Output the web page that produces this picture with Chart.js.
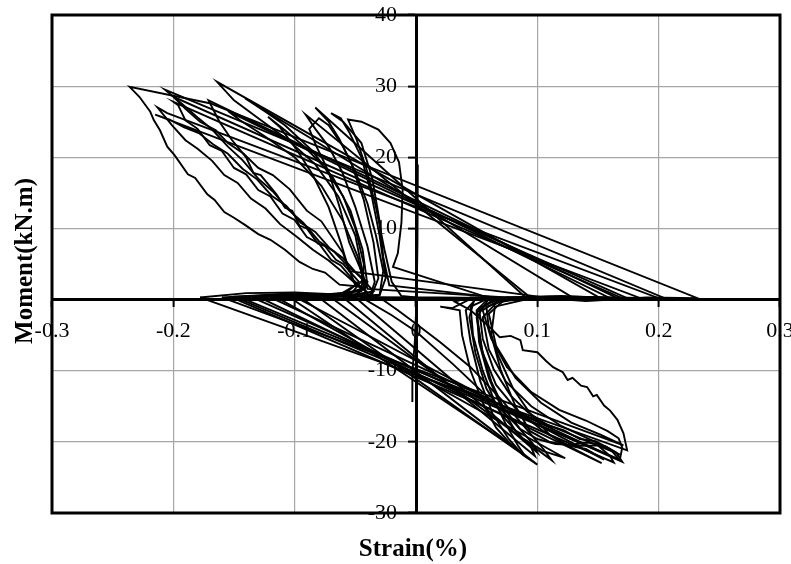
<!DOCTYPE html>
<html lang="en">
<head>
    <meta charset="UTF-8">
    <title>Moment - Strain</title>
    <script src="https://cdn.jsdelivr.net/npm/chart.js"></script>
    <style>
        html, body {
            margin: 0;
            padding: 0;
            background-color: #fff;
        }
        .chart-box {
            position: relative;
            width: 791px;
            height: 564px;
        }
    </style>
</head>
<body>
    <div class="chart-box">
        <canvas id="chart"></canvas>
    </div>

    <script>
        // axis ticks
        const strainTicks = [-0.3, -0.2, -0.1, 0, 0.1, 0.2, 0.3];
        const strainLabels = ['-0.3', '-0.2', '-0.1', '0', '0.1', '0.2', '0.3'];
        const momentTicks = [-30, -20, -10, 0, 10, 20, 30, 40];
        const momentLabels = ['-30', '-20', '-10', '', '10', '20', '30', '40'];

        // recorded loops, [strain %, moment kN.m]
        const cycle1 = [
            [0.000, 0.3], [-0.012, 0.5], [-0.020, 2.5], [-0.026, 7], [-0.033, 13], [-0.041, 18.5],
            [-0.049, 22.5], [-0.056, 25.3], [-0.045, 25.0], [-0.031, 23.9], [-0.021, 22.0],
            [-0.014, 19.3], [-0.011, 15.4], [-0.012, 10.8], [-0.015, 6.5], [-0.019, 4.6],
            [0.061, 0.2], [0.045, 0.1], [0.030, -1.2], [0.020, -1.0], [0.036, -1.5], [0.038, -5],
            [0.045, -10], [0.055, -14.5], [0.066, -18], [0.080, -20.7], [-0.104, 0.3]
        ];
        const cycle2 = [
            [-0.104, 0.3], [-0.080, 0.6], [-0.055, 0.5], [-0.036, 0.8], [-0.031, 3], [-0.035, 8],
            [-0.043, 14], [-0.053, 19], [-0.063, 22.5], [-0.072, 25], [-0.083, 27.0],
            [0.091, 0.2], [0.070, -0.3], [0.050, 0.2], [0.041, -1.5], [0.045, -6], [0.053, -11.5],
            [0.063, -16], [0.076, -19.5], [0.088, -21.8], [0.100, -23.2], [-0.080, 0.3]
        ];
        const cycle3 = [
            [-0.080, 0.3], [-0.052, 0.6], [-0.038, 0.4], [-0.034, 2.5], [-0.040, 7.5], [-0.050, 13],
            [-0.061, 18], [-0.072, 21.5], [-0.083, 24], [-0.091, 26.0],
            [0.095, 0.2], [0.075, 0.3], [0.048, 0.0], [0.044, -2.5], [0.049, -7.5], [0.058, -12.5],
            [0.072, -16.5], [0.088, -19.5], [0.105, -21.3], [0.123, -22.3], [-0.115, 0.3]
        ];
        const cycle4 = [
            [-0.115, 0.3], [-0.085, 0.7], [-0.050, 0.6], [-0.040, 2], [-0.044, 7], [-0.054, 12.5],
            [-0.068, 17], [-0.086, 21], [-0.108, 24.5], [-0.125, 26.5], [-0.141, 28.3],
            [0.130, 0.2], [0.095, 0.4], [0.060, 0.1], [0.050, -2.5], [0.055, -7.5], [0.066, -12],
            [0.083, -15.5], [0.105, -18.5], [0.128, -20.8], [0.153, -23.0], [-0.129, 0.3]
        ];
        const cycle5 = [
            [-0.129, 0.3], [-0.090, 0.8], [-0.055, 0.5], [-0.043, 3], [-0.050, 9], [-0.064, 14.5],
            [-0.083, 19], [-0.106, 22.5], [-0.130, 25.5], [-0.150, 28], [-0.164, 30.6],
            [0.152, 0.2], [0.110, 0.4], [0.070, 0.2], [0.055, -2.5], [0.060, -7], [0.074, -11.5],
            [0.095, -15], [0.120, -17.8], [0.145, -19.8], [0.168, -21.8], [-0.145, 0.3]
        ];
        const cycle6 = [
            [-0.145, 0.3], [-0.100, 0.7], [-0.060, 0.6], [-0.047, 2.5], [-0.060, 5], [-0.066, 5.6],
            [-0.075, 7.5], [-0.081, 7.9], [-0.090, 10], [-0.096, 10.4], [-0.102, 12.5],
            [-0.108, 12.9], [-0.115, 14.8], [-0.128, 17.5], [-0.134, 17.8], [-0.140, 20],
            [-0.152, 22.5], [-0.162, 25], [-0.171, 28.0],
            [0.166, 0.2], [0.120, 0.5], [0.075, 0.3], [0.060, -2], [0.066, -6.5], [0.082, -11],
            [0.103, -14.5], [0.128, -17.3], [0.152, -19], [0.171, -20.5], [-0.160, 0.3]
        ];
        const cycle7 = [
            [-0.160, 0.3], [-0.110, 0.8], [-0.065, 0.5], [-0.050, 2], [-0.060, 6.5], [-0.078, 11],
            [-0.090, 12.5], [-0.104, 15.5], [-0.118, 17.5], [-0.130, 18.5], [-0.142, 20.5],
            [-0.155, 22], [-0.165, 23.8], [-0.178, 25], [-0.190, 26.8], [-0.200, 28.5],
            [0.174, 0.2], [0.130, 0.4], [0.080, 0.2], [0.045, 0.3], [0.032, -0.3], [0.045, -1.5],
            [0.055, -3], [0.061, -3.9], [0.069, -5.3], [0.078, -5.1], [0.086, -5.7], [0.088, -7.1],
            [0.100, -7.4], [0.107, -8.6], [0.113, -9.5], [0.121, -10.2], [0.125, -11.3],
            [0.129, -11.0], [0.136, -12.1], [0.141, -12.3], [0.146, -13.6], [0.149, -13.4],
            [0.155, -14.9], [0.160, -15.6], [0.166, -16.9], [0.171, -18.8], [0.174, -21.2],
            [-0.178, 0.3]
        ];
        const cycle8 = [
            [-0.178, 0.3], [-0.140, 0.9], [-0.100, 1.0], [-0.060, 0.7], [-0.040, 0.8], [-0.045, 1.8],
            [-0.063, 2.1], [-0.075, 3.8], [-0.085, 4.3], [-0.096, 5.3], [-0.108, 7.0], [-0.120, 8.4],
            [-0.130, 9.2], [-0.141, 10.5], [-0.150, 11.5], [-0.158, 12.3], [-0.166, 14.0],
            [-0.172, 14.8], [-0.182, 17.1], [-0.188, 17.6], [-0.199, 20.3], [-0.205, 21.5],
            [-0.211, 23.8], [-0.216, 25.2], [-0.219, 26.4], [-0.228, 28.5], [-0.236, 29.9],
            [-0.170, 27.6],
            [0.232, 0.2], [0.190, 0.3], [0.140, -0.2], [0.100, 0.3], [0.070, 0.1], [0.055, -1.5],
            [0.062, -5.5], [0.075, -9.5], [0.095, -13], [0.118, -15.5], [0.140, -17],
            [0.158, -18.5], [0.167, -19.5], [0.170, -20.8], [0.168, -22.5], [-0.150, 0.4]
        ];
        const cycle9 = [
            [-0.150, 0.4], [-0.090, 0.8], [-0.050, 0.6], [-0.040, 2.5], [-0.055, 4.5], [-0.068, 6.8],
            [-0.080, 8.2], [-0.093, 10.8], [-0.105, 12.6], [-0.118, 15.2], [-0.130, 17.0],
            [-0.143, 19.6], [-0.155, 21.5], [-0.168, 23.9], [-0.180, 25.6], [-0.192, 27.4],
            [-0.207, 29.5],
            [0.205, 0.2], [0.150, 0.3], [0.090, 0.0], [0.065, -1], [0.062, -5], [0.070, -10],
            [0.082, -15], [0.094, -18.5], [0.110, -20], [0.130, -20.6], [0.150, -20.5],
            [0.160, -22.0], [0.163, -22.9], [-0.152, 0.3]
        ];
        const cycle10 = [
            [-0.152, 0.3], [-0.110, 0.7], [-0.060, 0.8], [-0.045, 1.5], [-0.058, 3.5], [-0.072, 5.5],
            [-0.085, 7.0], [-0.098, 8.8], [-0.112, 10.6], [-0.124, 12.8], [-0.136, 14.2],
            [-0.147, 16.4], [-0.158, 17.5], [-0.168, 19.5], [-0.180, 21.2], [-0.190, 22.4],
            [-0.201, 24.5], [-0.213, 27.0], [-0.205, 26.2],
            [0.200, 0.2], [0.140, 0.3], [0.080, 0.2], [0.058, -1], [0.060, -4], [0.068, -8],
            [0.080, -12.5], [0.094, -16], [0.110, -19], [0.125, -20.5], [0.140, -21],
            [0.155, -22.5], [-0.100, 0.4]
        ];
        const cycle11 = [
            [-0.100, 0.4], [-0.060, 0.7], [-0.042, 1.5], [-0.048, 6], [-0.060, 11], [-0.078, 16],
            [-0.100, 20], [-0.125, 23], [-0.145, 25.2], [-0.155, 26.5],
            [0.160, 0.2], [0.110, 0.3], [0.060, 0.2], [0.050, -1.5], [0.052, -6], [0.060, -11],
            [0.070, -15], [0.082, -18.5], [0.095, -20.8], [0.098, -22.0], [-0.060, 0.3]
        ];
        const cycle12 = [
            [-0.060, 0.3], [-0.030, 0.6], [-0.025, 3], [-0.030, 9], [-0.037, 15], [-0.045, 20],
            [-0.055, 23.5], [-0.062, 25.5], [-0.070, 26.2], [-0.060, 25.0], [-0.045, 22],
            [-0.036, 17], [-0.030, 11], [-0.027, 6], [-0.022, 2],
            [0.070, 0.2], [0.020, 0.3], [-0.045, 0.3], [-0.020, -2.2], [0.000, -4.5], [0.030, -9],
            [0.058, -13.5], [0.082, -17.5], [0.096, -20.2], [0.100, -21.5], [-0.050, 0.3]
        ];
        const cycle13 = [
            [-0.050, 0.5], [-0.035, 1.2], [-0.048, 3.5], [-0.060, 5.8], [-0.071, 7.2], [-0.083, 9.5],
            [-0.095, 10.8], [-0.107, 13.2], [-0.119, 14.6], [-0.131, 16.9], [-0.143, 18.4],
            [-0.155, 20.5], [-0.167, 21.8], [-0.179, 23.4], [-0.191, 24.2], [-0.203, 25.3],
            [-0.215, 26.0],
            [0.185, 0.2], [0.120, 0.3], [0.070, 0.2], [0.052, -1.2], [0.055, -5.5], [0.064, -9.8],
            [0.078, -13.5], [0.092, -15.8], [0.108, -17.6], [0.122, -18.4], [0.135, -19.6],
            [0.148, -19.9], [0.160, -21.0], [0.168, -22.6], [-0.120, 0.3]
        ];
        const cycle14 = [
            [-0.120, 0.3], [-0.050, 0.4], [-0.030, 0.7], [-0.027, 4], [-0.033, 9], [-0.040, 13.5],
            [-0.050, 18], [-0.060, 21.5], [-0.072, 24.5], [-0.080, 25.5], [-0.088, 24],
            [-0.082, 21.5], [-0.072, 18], [-0.063, 13], [-0.055, 8], [-0.045, 4], [-0.040, 1.5],
            [0.085, 0.2], [0.060, 0.2], [0.045, -1], [0.047, -5], [0.055, -10], [0.064, -14],
            [0.074, -17.5], [0.084, -20.5], [0.090, -22.0], [-0.095, 0.3]
        ];
        const cycle15 = [
            [-0.095, 0.3], [-0.055, 0.6], [-0.040, 1.0], [-0.052, 2.8], [-0.062, 4.8], [-0.070, 5.6],
            [-0.080, 7.9], [-0.090, 8.8], [-0.100, 11.2], [-0.110, 12.1], [-0.120, 14.5],
            [-0.130, 15.4], [-0.140, 17.6], [-0.150, 18.5], [-0.160, 20.9], [-0.170, 21.7],
            [-0.180, 24.0], [-0.190, 25.2], [-0.196, 27.3], [-0.200, 27.8],
            [0.170, 0.2], [0.110, 0.3], [0.065, 0.2], [0.050, -1.8], [0.054, -6.8], [0.062, -11.5],
            [0.072, -15.2], [0.086, -18.2], [0.100, -19.6], [0.115, -20.3], [0.128, -20.4],
            [0.142, -20.1], [0.156, -20.6], [0.165, -21.5], [0.170, -22.8], [-0.135, 0.3]
        ];
        const cycle16 = [
            [-0.135, 0.3], [-0.070, 0.8], [-0.045, 1.2], [-0.043, 5], [-0.050, 10], [-0.060, 14.5],
            [-0.075, 18.5], [-0.092, 21.5], [-0.108, 23.8], [-0.122, 25.7], [-0.112, 24.2],
            [-0.098, 21], [-0.085, 17.5], [-0.072, 13], [-0.062, 8], [-0.055, 4],
            [0.110, 0.2], [0.075, 0.3], [0.020, 0.2], [-0.030, 0.3], [-0.015, -1.5], [0.000, -3.4],
            [0.020, -6], [0.045, -9.5], [0.070, -14], [0.090, -18], [0.105, -21], [0.112, -22.6],
            [-0.070, 0.3]
        ];
        // gauge drift through zero strain
        const cycle17 = [
            [0.0015, 19.0], [0.0012, 8.0], [0.0005, 0.0], [-0.001, -6.0], [-0.003, -10.3], [-0.003, -14.4]
        ];

        const cycles = [cycle1, cycle2, cycle3, cycle4, cycle5, cycle6, cycle7, cycle8, cycle9,
                        cycle10, cycle11, cycle12, cycle13, cycle14, cycle15, cycle16, cycle17];

        const tickFont = { family: "'Times New Roman', 'Liberation Serif', serif", size: 22, lineHeight: 1 };

        // labels of an axis placed at x = 0 sit right on the line; move them off it
        const yLabelGap = {
            id: 'yLabelGap',
            beforeDraw(chart) {
                const items = chart.scales.y.getLabelItems(chart.chartArea);
                items.forEach(item => {
                    if (!item.moved) {
                        item.options.translation[0] -= 19;
                        item.moved = true;
                    }
                });
            }
        };

        // outer frame and axis titles
        const frameAndTitles = {
            id: 'frameAndTitles',
            afterDraw(chart) {
                const { ctx, chartArea: a } = chart;
                ctx.save();
                ctx.strokeStyle = '#000';
                ctx.lineWidth = 3;
                ctx.strokeRect(a.left, a.top, a.right - a.left, a.bottom - a.top);

                ctx.fillStyle = '#000';
                ctx.font = "bold 25px 'Times New Roman', 'Liberation Serif', serif";
                ctx.textAlign = 'center';
                ctx.textBaseline = 'alphabetic';
                ctx.fillText('Strain(%)', 413, 556);

                ctx.translate(32, 261);
                ctx.rotate(-Math.PI / 2);
                ctx.fillText('Moment(kN.m)', 0, 0);
                ctx.restore();
            }
        };

        const ctx = document.getElementById('chart').getContext('2d');
        new Chart(ctx, {
            type: 'scatter',
            data: {
                datasets: cycles.map((c, i) => ({
                    label: 'Cycle ' + (i + 1),
                    data: c.map(p => ({ x: p[0], y: p[1] })),
                    showLine: true,
                    borderColor: '#000',
                    borderWidth: 1.9,
                    pointRadius: 0,
                    tension: 0
                }))
            },
            options: {
                responsive: true,
                maintainAspectRatio: false,
                animation: false,
                layout: {
                    padding: { left: 52, right: 11, top: 15, bottom: 51 }
                },
                plugins: {
                    legend: { display: false },
                    tooltip: { enabled: false }
                },
                scales: {
                    x: {
                        type: 'linear',
                        position: { y: 0 },
                        min: -0.3,
                        max: 0.3,
                        afterBuildTicks: s => { s.ticks = strainTicks.map(v => ({ value: v })); },
                        afterFit: s => { s.paddingLeft = 0; s.paddingRight = 0; },
                        grid: {
                            color: '#a6a6a6',
                            lineWidth: 1.2,
                            tickColor: '#000',
                            tickLength: 6,
                            tickWidth: 2
                        },
                        border: { color: '#000', width: 3 },
                        ticks: {
                            autoSkip: false,
                            maxRotation: 0,
                            padding: 15,
                            color: '#000',
                            font: tickFont,
                            callback: (v, i) => strainLabels[i]
                        }
                    },
                    y: {
                        type: 'linear',
                        position: { x: 0 },
                        min: -30,
                        max: 40,
                        afterBuildTicks: s => { s.ticks = momentTicks.map(v => ({ value: v })); },
                        afterFit: s => { s.paddingTop = 0; s.paddingBottom = 0; },
                        grid: {
                            color: '#a6a6a6',
                            lineWidth: 1.2,
                            tickColor: '#000',
                            tickLength: 7,
                            tickWidth: 2
                        },
                        border: { color: '#000', width: 3 },
                        ticks: {
                            autoSkip: false,
                            padding: 12,
                            color: '#000',
                            font: tickFont,
                            callback: (v, i) => momentLabels[i]
                        }
                    }
                }
            },
            plugins: [yLabelGap, frameAndTitles]
        });
    </script>
</body>
</html>
